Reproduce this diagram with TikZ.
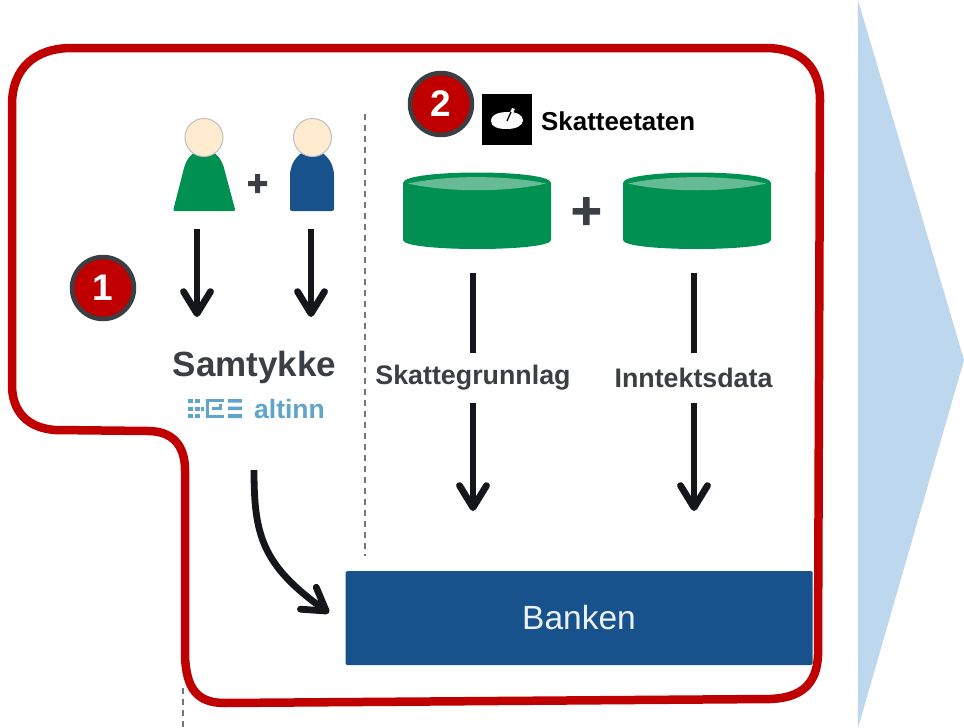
\documentclass[tikz,border=0pt]{standalone}
\usepackage{fontspec}
\setmainfont{Liberation Sans}
\usetikzlibrary{arrows.meta}
\definecolor{redc}{HTML}{C00000}
\definecolor{greenc}{HTML}{009052}
\definecolor{bluec}{HTML}{17528C}
\definecolor{skin}{HTML}{FFEBD0}
\definecolor{darkc}{HTML}{3B3E42}
\definecolor{arrowc}{HTML}{15161A}
\definecolor{chev}{HTML}{BDD7EE}
\definecolor{altc}{HTML}{5FA5CB}
\definecolor{dashc}{HTML}{72728A}
\definecolor{drumtop}{HTML}{66BB96}
\tikzset{
 bigarrow/.style={draw=arrowc,line width=6.8pt,-{Straight Barb[length=22pt,width=27pt,line width=6.8pt,round]}},
 shaft/.style={draw=arrowc,line width=6.8pt},
 badge/.style={circle,fill=redc,draw=darkc,line width=4.5pt,minimum size=62pt,inner sep=0pt,text=white,font=\bfseries\fontsize{37}{37}\selectfont},
 lbl/.style={font=\bfseries\fontsize{26.8}{30}\selectfont,text=darkc,inner sep=0pt},
 divider/.style={draw=dashc,line width=2pt,dash pattern=on 6pt off 5pt},
 head/.style={circle,fill=skin,draw=black!25,line width=1pt,minimum size=38pt,inner sep=0pt},
 altbit/.style={fill=altc,draw=none},
}
\newcommand{\drum}[1]{%
 \fill[greenc] (#1-74,183) .. controls (#1-74,169) and (#1+74,169) .. (#1+74,183)
   -- (#1+74,240) .. controls (#1+74,252) and (#1-74,252) .. (#1-74,240) -- cycle;
 \fill[drumtop] (#1-69,183.5) .. controls (#1-30,175) and (#1+30,175) .. (#1+69,183.5)
   .. controls (#1+30,192.5) and (#1-30,192.5) .. (#1-69,183.5) -- cycle;
}
\begin{document}
\begin{tikzpicture}[x=1pt,y=-1pt]
\useasboundingbox (0,0) rectangle (964,728);
% chevron
\fill[chev] (858,0) -- (964,360) -- (858,728) -- cycle;
% dividers
\coordinate (d1a) at (365,114); \coordinate (d1b) at (365,556);
\coordinate (d2a) at (182.5,688); \coordinate (d2b) at (182.5,728);
\draw[divider] (d1a) -- (d1b);
\draw[divider] (d2a) -- (d2b);
% red outline
\draw[redc,line width=8.5pt,line join=round]
 (72,48) -- (765,48) .. controls (802,48) and (820,68) .. (820,100)
 -- (818,655) .. controls (817,685) and (800,698) .. (770,699)
 -- (225,703) .. controls (198,703) and (186,690) .. (185,655)
 -- (185,470) .. controls (185,445) and (172,431) .. (148,431)
 -- (55,430) .. controls (28,428) and (12,412) .. (12,385)
 -- (12,105) .. controls (12,68) and (35,48) .. (72,48) -- cycle;
% persons
\fill[greenc,rounded corners=1.5pt] (173,211) -- (184,168) .. controls (188,155) and (196,150) .. (204,150) .. controls (212,150) and (220,155) .. (224,168) -- (235.5,211) -- cycle;
\node[head] (h1) at (204,137.5) {};
\fill[bluec,rounded corners=2pt] (290,211) -- (290,178) .. controls (290,160) and (302,150) .. (312,150) .. controls (322,150) and (334,160) .. (334,178) -- (334,211) -- cycle;
\node[head] (h2) at (312.5,137.5) {};
\fill[darkc] (248,181) rectangle (267,186) (255,174) rectangle (260,193);
% arrows from persons
\coordinate (a1s) at (197,229); \coordinate (a1e) at (197,317);
\coordinate (a2s) at (311,229); \coordinate (a2e) at (311,317);
\draw[bigarrow] (a1s) -- (a1e);
\draw[bigarrow] (a2s) -- (a2e);
% badges
\node[badge] (b1) at (103,288) {1};
\node[badge] (b2) at (441,104) {2};
% Samtykke
\node[font=\bfseries\fontsize{35}{38}\selectfont,text=darkc,inner sep=0pt] (sam) at (254.5,367) {Samtykke};
% altinn logo
\foreach \xx in {188,195} \foreach \yy in {399,406.5,414} \fill[altbit] (\xx,\yy) rectangle ++(4.5,4);
\fill[altbit] (200.5,406.5) rectangle ++(3,4);
\draw[altc,line width=3pt] (224,400.5) -- (207.5,400.5) -- (207.5,416.5) -- (224,416.5) (212,408.5) -- (220,408.5) -- (220,404);
\fill[altbit] (228,399) rectangle (242,402.5) (228,406.5) rectangle (242,410) (228,414) rectangle (242,418);
\node[font=\bfseries\fontsize{26.5}{28}\selectfont,text=altc,inner sep=0pt,anchor=west] (alt) at (254,409.5) {altinn};
% Skatteetaten logo
\fill[black] (482,94) rectangle (532,145);
\fill[white] (491,121) .. controls (491,114) and (500,112) .. (508,112) .. controls (517,112) and (523,115) .. (523,120.5) .. controls (523,126) and (515,129) .. (507,129) .. controls (498,129) and (491,127) .. (491,121) -- cycle;
\draw[white,line width=3pt] (510,116) -- (513.5,108.5);
\draw[black,line width=1.3pt] (507,121) -- (511,112);
\node[font=\bfseries\fontsize{25.9}{28}\selectfont,text=black,inner sep=0pt,anchor=west] (skatt) at (541,121) {Skatteetaten};
% drums
\drum{477}
\drum{697}
\fill[darkc] (572.5,208) rectangle (600,214.5) (583,197) rectangle (589.5,225);
% labels and arrows
\node[lbl] (sk) at (473,378) {Skattegrunnlag};
\node[lbl] (inn) at (693.5,378) {Inntektsdata};
\coordinate (s1) at (473,273); \coordinate (t1) at (473,353);
\coordinate (s2) at (694,273); \coordinate (t2) at (694,353);
\coordinate (m1) at (473,403); \coordinate (e1) at (473,511);
\coordinate (m2) at (694,403); \coordinate (e2) at (694,511);
\draw[shaft] (s1) -- (t1);
\draw[shaft] (s2) -- (t2);
\draw[bigarrow] (m1) -- (e1);
\draw[bigarrow] (m2) -- (e2);
% Banken
\node[fill=bluec,rounded corners=1.5pt,minimum width=467pt,minimum height=94pt,inner sep=0pt,text=white!92!bluec,font=\fontsize{33.5}{36}\selectfont] (bank) at (579,618) {Banken};
% curved arrow
\coordinate (c1) at (254,470);
\draw[bigarrow] (c1) .. controls (254,535) and (262,565) .. (329,613);
\end{tikzpicture}
\end{document}
